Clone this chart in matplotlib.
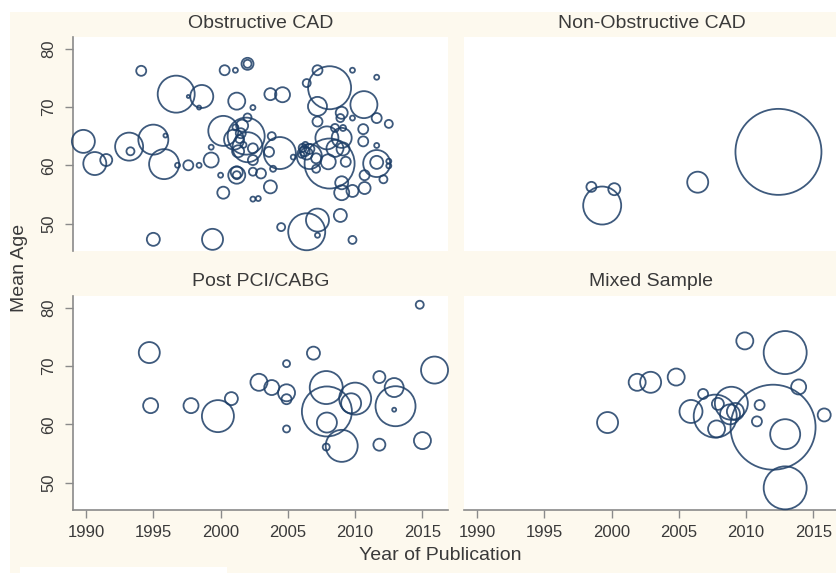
import matplotlib
matplotlib.use("Agg")
import matplotlib.pyplot as plt
from matplotlib.patches import Rectangle
import numpy as np

plt.rcParams['font.family'] = ['Liberation Sans', 'DejaVu Sans']

# ---------------- data ----------------
panel_titles = ["Obstructive CAD", "Non-Obstructive CAD", "Post PCI/CABG", "Mixed Sample"]
x_ticks = [1990, 1995, 2000, 2005, 2010, 2015]
y_ticks = [50, 60, 70, 80]

obs_year = [1989.8, 1990.65, 1991.5, 1994.1, 1996.7, 1998.6, 1997.6, 1998.4, 1993.2, 1993.3,
            1995.0, 1995.9, 1995.8, 1996.8, 1997.6, 1998.4, 1999.3, 1999.3, 1995.0, 1999.4,
            2000.3, 2001.1, 2002.0, 2002.0, 2001.2, 2000.2, 2001.9, 2001.0, 2001.3, 2001.2,
            2001.2, 2000.2, 2002.4, 2002.4, 2000.0, 2002.0, 2002.4, 2002.4, 2002.4, 2001.5,
            2001.4, 2001.7, 2001.1, 2001.6, 2002.0, 2001.2,
            2008.1, 2007.2, 2006.4, 2009.8, 2011.6, 2003.7, 2004.6, 2007.2, 2010.65, 2009.0,
            2008.9, 2009.8, 2011.6, 2012.5, 2007.2, 2010.6, 2010.6, 2011.6, 2004.4, 2008.1,
            2008.0, 2006.25, 2006.1, 2006.4, 2006.3, 2006.6, 2006.0, 2005.4, 2007.1, 2011.6,
            2011.6, 2012.5, 2012.5, 2010.7, 2012.1, 2009.0, 2009.8, 2010.7, 2009.0, 2003.7,
            2002.8, 2008.9, 2006.4, 2007.2, 2007.2, 2004.5, 2009.8, 2003.8, 2003.6, 2003.0,
            2003.9, 2007.9, 2009.0, 2008.5, 2009.1, 2007.1, 2009.3, 2008.5, 2009.1, 2006.6]
obs_age = [64.1, 60.3, 60.9, 76.2, 72.2, 71.8, 71.8, 69.9, 63.2, 62.4,
           64.4, 65.1, 60.2, 60.0, 60.0, 60.0, 60.9, 63.1, 47.3, 47.3,
           76.3, 76.3, 77.4, 77.4, 71.0, 65.9, 65.0, 64.4, 62.4, 58.3,
           58.3, 55.3, 54.2, 69.9, 58.3, 63.1, 62.9, 60.9, 58.9, 65.5,
           64.5, 63.5, 66.5, 66.8, 68.2, 58.8,
           73.3, 76.3, 74.1, 76.3, 75.1, 72.2, 72.1, 70.1, 70.4, 69.0,
           68.1, 68.1, 68.1, 67.1, 67.5, 66.2, 64.1, 63.4, 62.1, 60.3,
           60.6, 62.4, 63.0, 62.0, 63.5, 62.8, 61.8, 61.4, 59.4, 60.3,
           60.5, 60.7, 59.9, 58.3, 57.6, 57.0, 55.6, 56.1, 55.3, 56.3,
           54.3, 51.4, 48.6, 50.6, 48.0, 49.4, 47.2, 65.0, 62.3, 58.6,
           59.4, 64.7, 64.7, 62.9, 62.8, 61.2, 60.6, 66.4, 66.4, 61.5]
obs_wt = [23, 23, 12, 10, 37, 23, 3, 4, 28, 8,
          30, 4, 30, 5, 10, 5, 15, 5, 13, 21,
          10, 5, 12, 8, 17, 30, 37, 20, 12, 17,
          8, 12, 5, 5, 5, 30, 10, 10, 8, 10,
          8, 6, 6, 12, 8, 12,
          43, 10, 8, 5, 5, 12, 15, 19, 27, 12,
          8, 5, 10, 8, 10, 10, 10, 5, 32, 50,
          15, 10, 8, 12, 6, 10, 6, 5, 8, 27,
          13, 5, 5, 10, 8, 13, 12, 12, 15, 13,
          5, 13, 37, 23, 5, 8, 8, 8, 10, 10,
          6, 23, 20, 17, 13, 10, 10, 8, 6, 25]

non_year = [1999.3, 1998.5, 2000.2, 2006.4, 2012.4]
non_age = [53.1, 56.3, 55.9, 57.1, 62.3]
non_wt = [38, 10, 12, 21, 86]

post_year = [1994.7, 1994.8, 1997.8, 1999.8, 2000.8, 2002.85, 2003.8, 2004.9, 2004.9, 2004.9,
             2004.9, 2006.9, 2007.85, 2007.9, 2007.9, 2007.85, 2009.0, 2010.0, 2009.7, 2011.8,
             2011.8, 2012.9, 2013.0, 2012.9, 2015.0, 2015.9, 2014.8]
post_age = [72.3, 63.2, 63.2, 61.4, 64.4, 67.2, 66.3, 65.4, 64.3, 70.4,
            59.2, 72.2, 66.3, 62.2, 60.3, 56.1, 56.3, 64.4, 63.6, 68.1,
            56.5, 66.3, 63.1, 62.5, 57.2, 69.3, 80.5]
post_wt = [21, 15, 15, 32, 13, 17, 15, 17, 10, 7,
           7, 13, 33, 50, 20, 7, 32, 32, 20, 12,
           12, 19, 40, 4, 17, 27, 8]

mix_year = [1999.7, 2001.9, 2002.9, 2004.8, 2009.9, 2012.9, 2006.8, 2005.9, 2007.7, 2008.9,
            2007.9, 2007.8, 2008.8, 2009.2, 2012.0, 2012.9, 2012.9, 2013.9, 2011.0, 2010.8,
            2015.8]
mix_age = [60.3, 67.2, 67.2, 68.1, 74.3, 72.3, 65.2, 62.2, 61.4, 63.6,
           63.5, 59.2, 61.7, 62.2, 59.5, 58.3, 49.1, 66.4, 63.3, 60.5,
           61.6]
mix_wt = [21, 17, 21, 17, 17, 43, 10, 23, 43, 33,
          12, 17, 20, 17, 85, 30, 43, 15, 10, 10,
          13]

# ---------------- style ----------------
W, H = 837, 573
cream = '#fdf9ee'
ring = '#1c3d66'
axis_gray = '#8a8a8a'
txt = '#3a3a3a'

fig = plt.figure(figsize=(W / 100, H / 100), dpi=100)
fig.patch.set_facecolor(cream)

def px_rect(x0, y0, x1, y1):
    return [x0 / W, 1 - y1 / H, (x1 - x0) / W, (y1 - y0) / H]

# white strips of the original image
fig.add_artist(Rectangle((0, 1 - 12 / H), 1, 12 / H, transform=fig.transFigure,
                         facecolor='white', edgecolor='none', zorder=0))
fig.add_artist(Rectangle((0, 0), 10 / W, 1, transform=fig.transFigure,
                         facecolor='white', edgecolor='none', zorder=0))
fig.add_artist(Rectangle((20 / W, 0), 207 / W, 6 / H, transform=fig.transFigure,
                         facecolor='white', edgecolor='none', zorder=0))

rects = [(73, 37, 448, 251), (464, 37, 839, 251), (73, 296, 448, 510), (464, 296, 839, 510)]
datasets = [(obs_year, obs_age, obs_wt), (non_year, non_age, non_wt),
            (post_year, post_age, post_wt), (mix_year, mix_age, mix_wt)]
title_y = [24, 24, 282, 282]

for i, (r, (xs, ys, ws)) in enumerate(zip(rects, datasets)):
    ax = fig.add_axes(px_rect(*r))
    ax.set_facecolor('white')
    ax.set_xlim(1989.03, 2016.9)
    ax.set_ylim(45.3, 82.0)
    s = (np.array(ws, dtype=float) * 0.72) ** 2
    ax.scatter(xs, ys, s=s, facecolors='none', edgecolors=ring, linewidths=1.3,
               alpha=0.85, clip_on=False, zorder=3)
    for sp in ax.spines.values():
        sp.set_visible(False)
    left = (i % 2 == 0)
    bottom = (i >= 2)
    if left:
        ax.spines['left'].set_visible(True)
        ax.spines['left'].set_color(axis_gray)
        ax.spines['left'].set_linewidth(1.2)
        ax.set_yticks(y_ticks)
        ax.tick_params(axis='y', length=6, width=1.0, color=axis_gray, labelsize=12,
                       labelcolor=txt, labelrotation=90, pad=6)
        for lab in ax.get_yticklabels():
            lab.set_va('center')
    else:
        ax.set_yticks([])
    if bottom:
        ax.spines['bottom'].set_visible(True)
        ax.spines['bottom'].set_color(axis_gray)
        ax.spines['bottom'].set_linewidth(1.2)
        ax.set_xticks(x_ticks)
        ax.tick_params(axis='x', length=6, width=1.0, color=axis_gray, labelsize=12,
                       labelcolor=txt, pad=5)
    else:
        ax.set_xticks([])
    cx = (r[0] + r[2]) / 2
    fig.text(cx / W, 1 - title_y[i] / H, panel_titles[i], ha='center', va='center',
             fontsize=14, color=txt)

fig.text(20 / W, 1 - 268 / H, "Mean Age", rotation=90, ha='center', va='center',
         fontsize=14, color=txt)
fig.text(440 / W, 1 - 556 / H, "Year of Publication", ha='center', va='center',
         fontsize=14, color=txt)

fig.savefig('out.png', dpi=100, facecolor=fig.get_facecolor())
